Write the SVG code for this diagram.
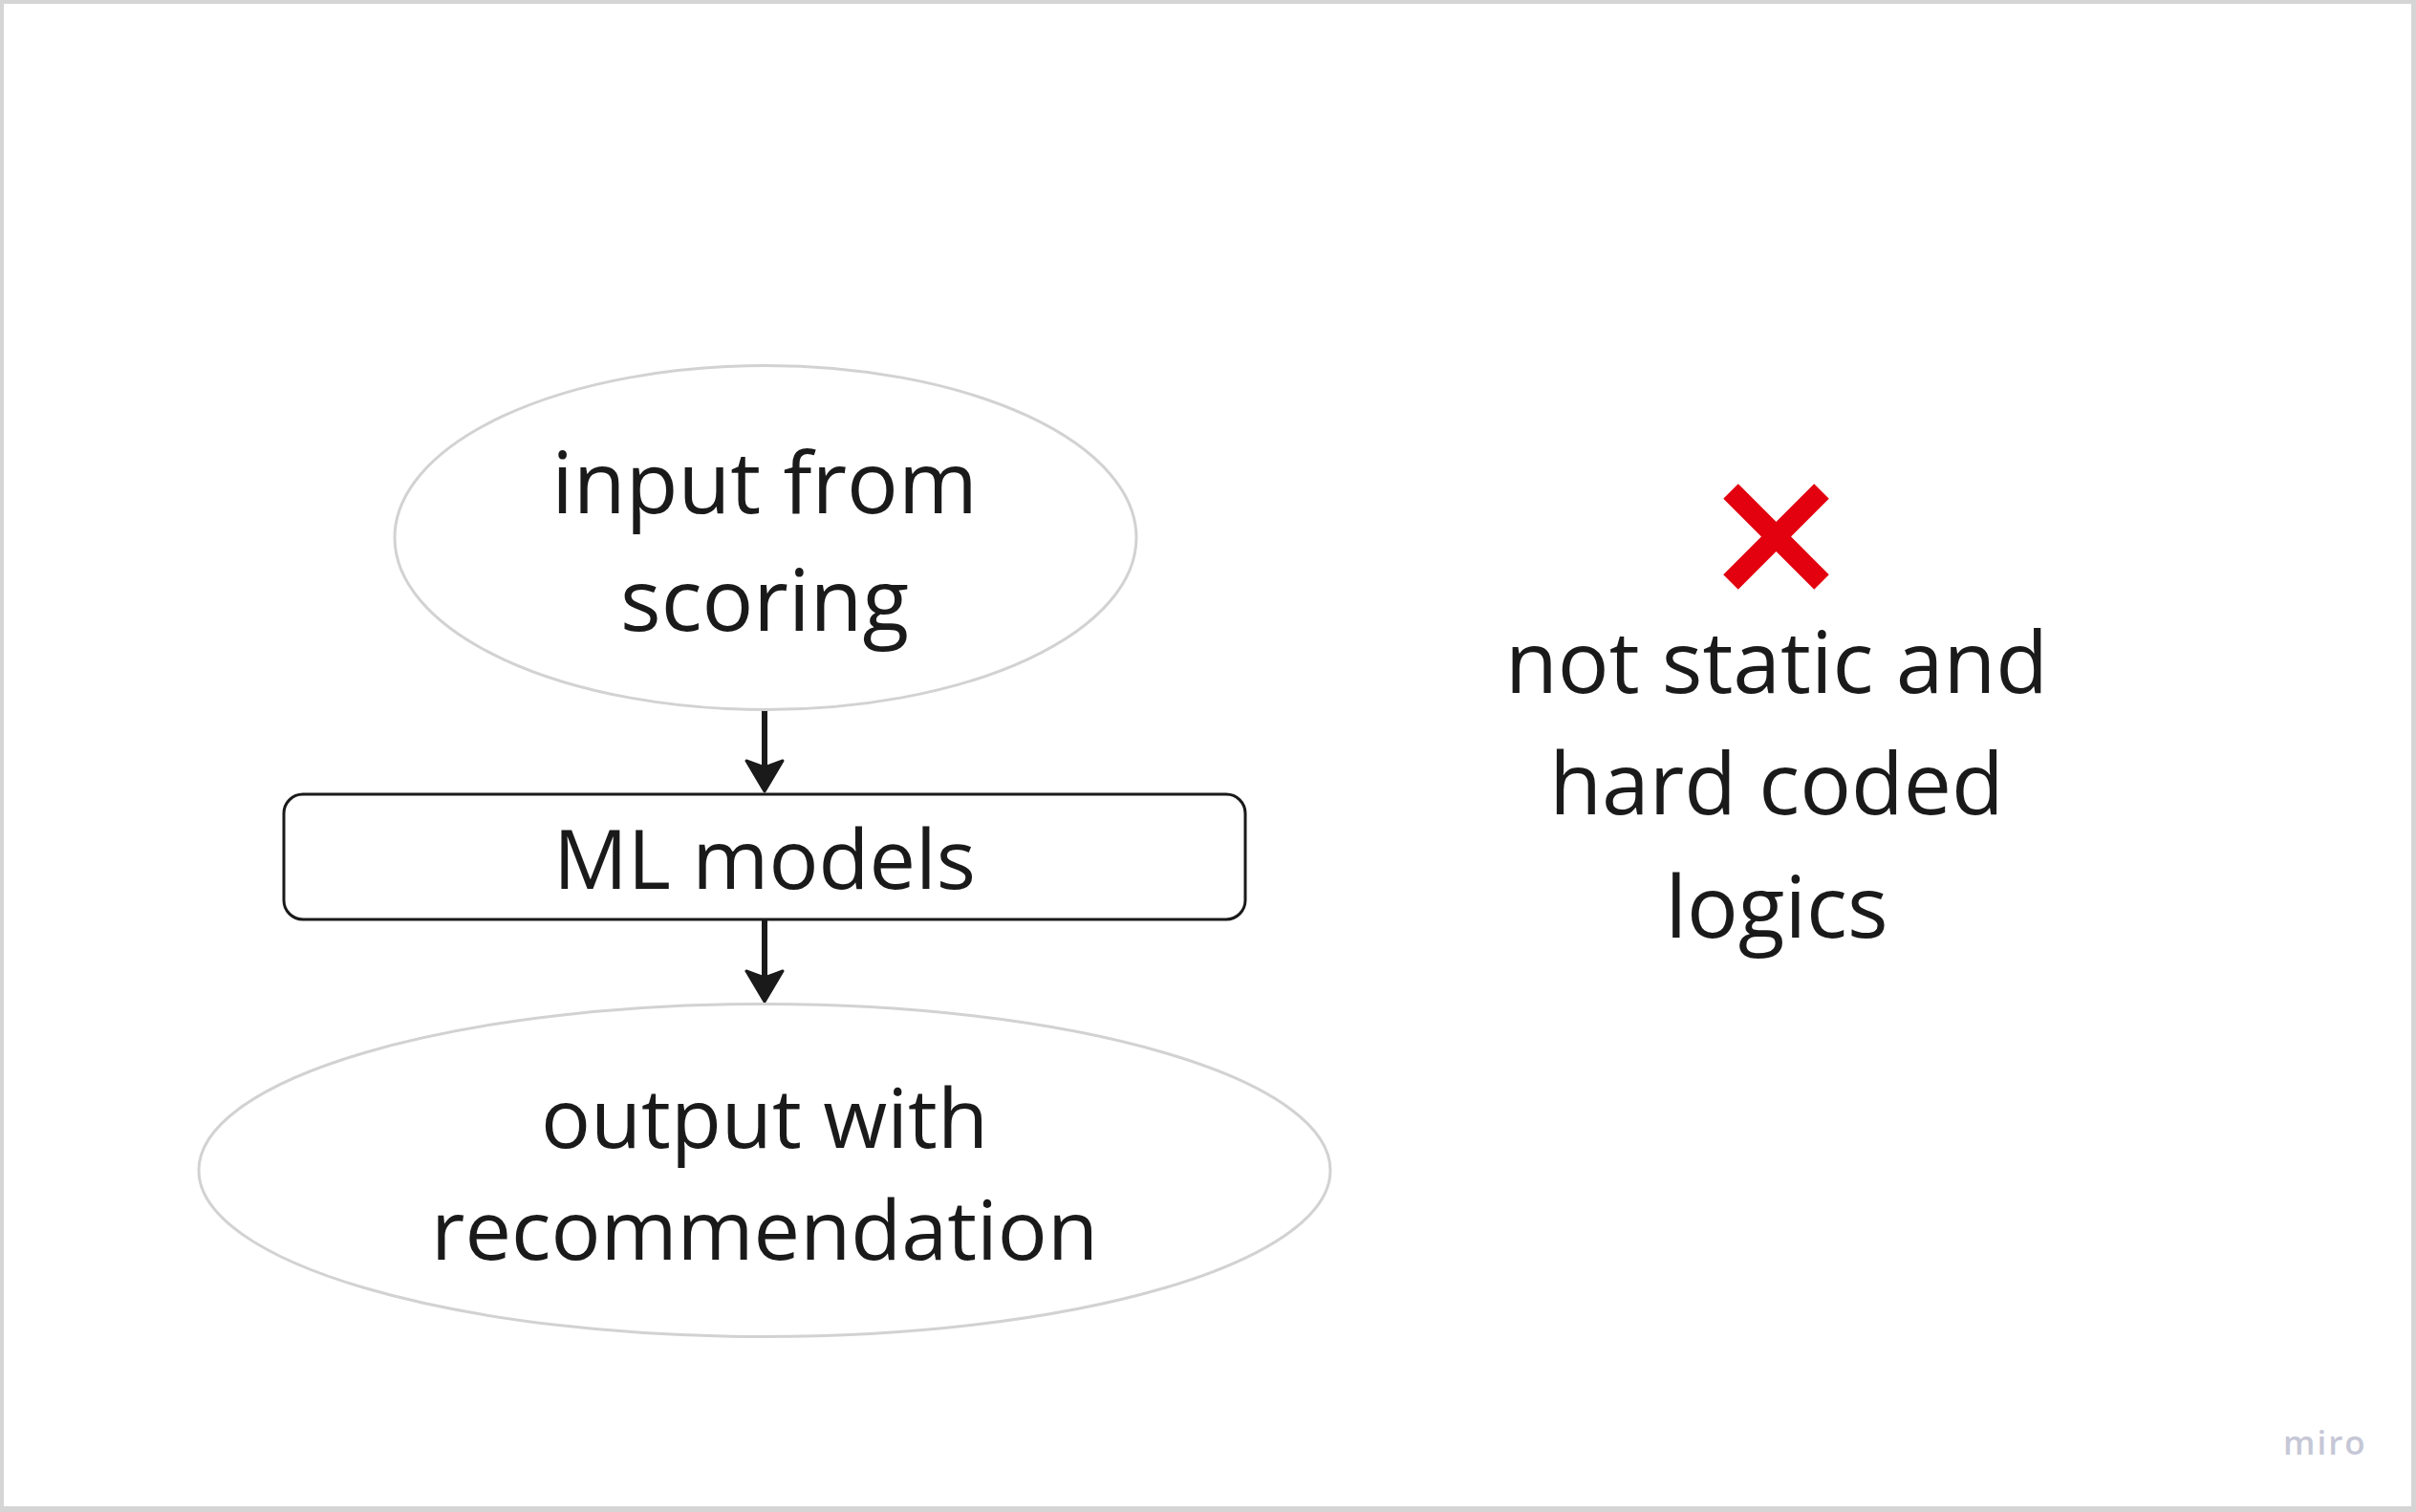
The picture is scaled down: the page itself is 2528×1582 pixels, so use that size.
<svg xmlns="http://www.w3.org/2000/svg" width="2528" height="1582" viewBox="0 0 2528 1582">
  <defs>
    <style>
      .lbl { font-family: "Open Sans", "Noto Sans", "Liberation Sans", sans-serif; font-size: 88px; fill: #1a1a1a; text-anchor: middle; }
      .big { font-size: 89.5px; }
      .small { font-size: 86.5px; }
      .oval { fill: #ffffff; stroke: #d2d2d2; stroke-width: 3; }
      .box { fill: #ffffff; stroke: #1a1a1a; stroke-width: 3; }
      .shaft { stroke: #1a1a1a; stroke-width: 6; fill: none; }
      .head { fill: #1a1a1a; stroke: #1a1a1a; stroke-width: 3; stroke-linejoin: round; }
      .cross { stroke: #e3000f; stroke-width: 22; stroke-linecap: butt; }
      .logo { font-family: "Open Sans", "Noto Sans", "Liberation Sans", sans-serif; font-size: 35px; font-weight: 600; fill: #c6c7d6; letter-spacing: 2px; }
    </style>
  </defs>

  <rect x="0" y="0" width="2528" height="1582" fill="#d5d5d5"/>
  <rect x="4" y="4" width="2519" height="1572" fill="#ffffff"/>

  <g id="connectors">
    <line class="shaft" x1="800" y1="743" x2="800" y2="806"/>
    <polygon class="head" points="800,828 781,796 800,803 819,796"/>
    <line class="shaft" x1="800" y1="962" x2="800" y2="1026"/>
    <polygon class="head" points="800,1048 781,1016 800,1023 819,1016"/>
  </g>

  <g id="node-input">
    <ellipse class="oval" cx="801" cy="562.5" rx="388" ry="180"/>
    <text class="lbl big" x="800" y="537">input from</text>
    <text class="lbl big" x="800" y="660">scoring</text>
  </g>

  <g id="node-ml">
    <rect class="box" x="297" y="831" width="1006" height="131" rx="20" ry="20"/>
    <text class="lbl small" x="800" y="930">ML models</text>
  </g>

  <g id="node-output">
    <ellipse class="oval" cx="800" cy="1224.5" rx="592" ry="174"/>
    <text class="lbl small" x="800" y="1201">output with</text>
    <text class="lbl small" x="800" y="1318">recommendation</text>
  </g>

  <g id="note-cross">
    <line class="cross" x1="1811" y1="514" x2="1906" y2="609"/>
    <line class="cross" x1="1906" y1="514" x2="1811" y2="609"/>
  </g>

  <g id="note-text">
    <text class="lbl big" x="1859" y="725">not static and</text>
    <text class="lbl big" x="1859" y="852">hard coded</text>
    <text class="lbl big" x="1859" y="981">logics</text>
  </g>

  <text class="logo" x="2389" y="1522">miro</text>
</svg>
